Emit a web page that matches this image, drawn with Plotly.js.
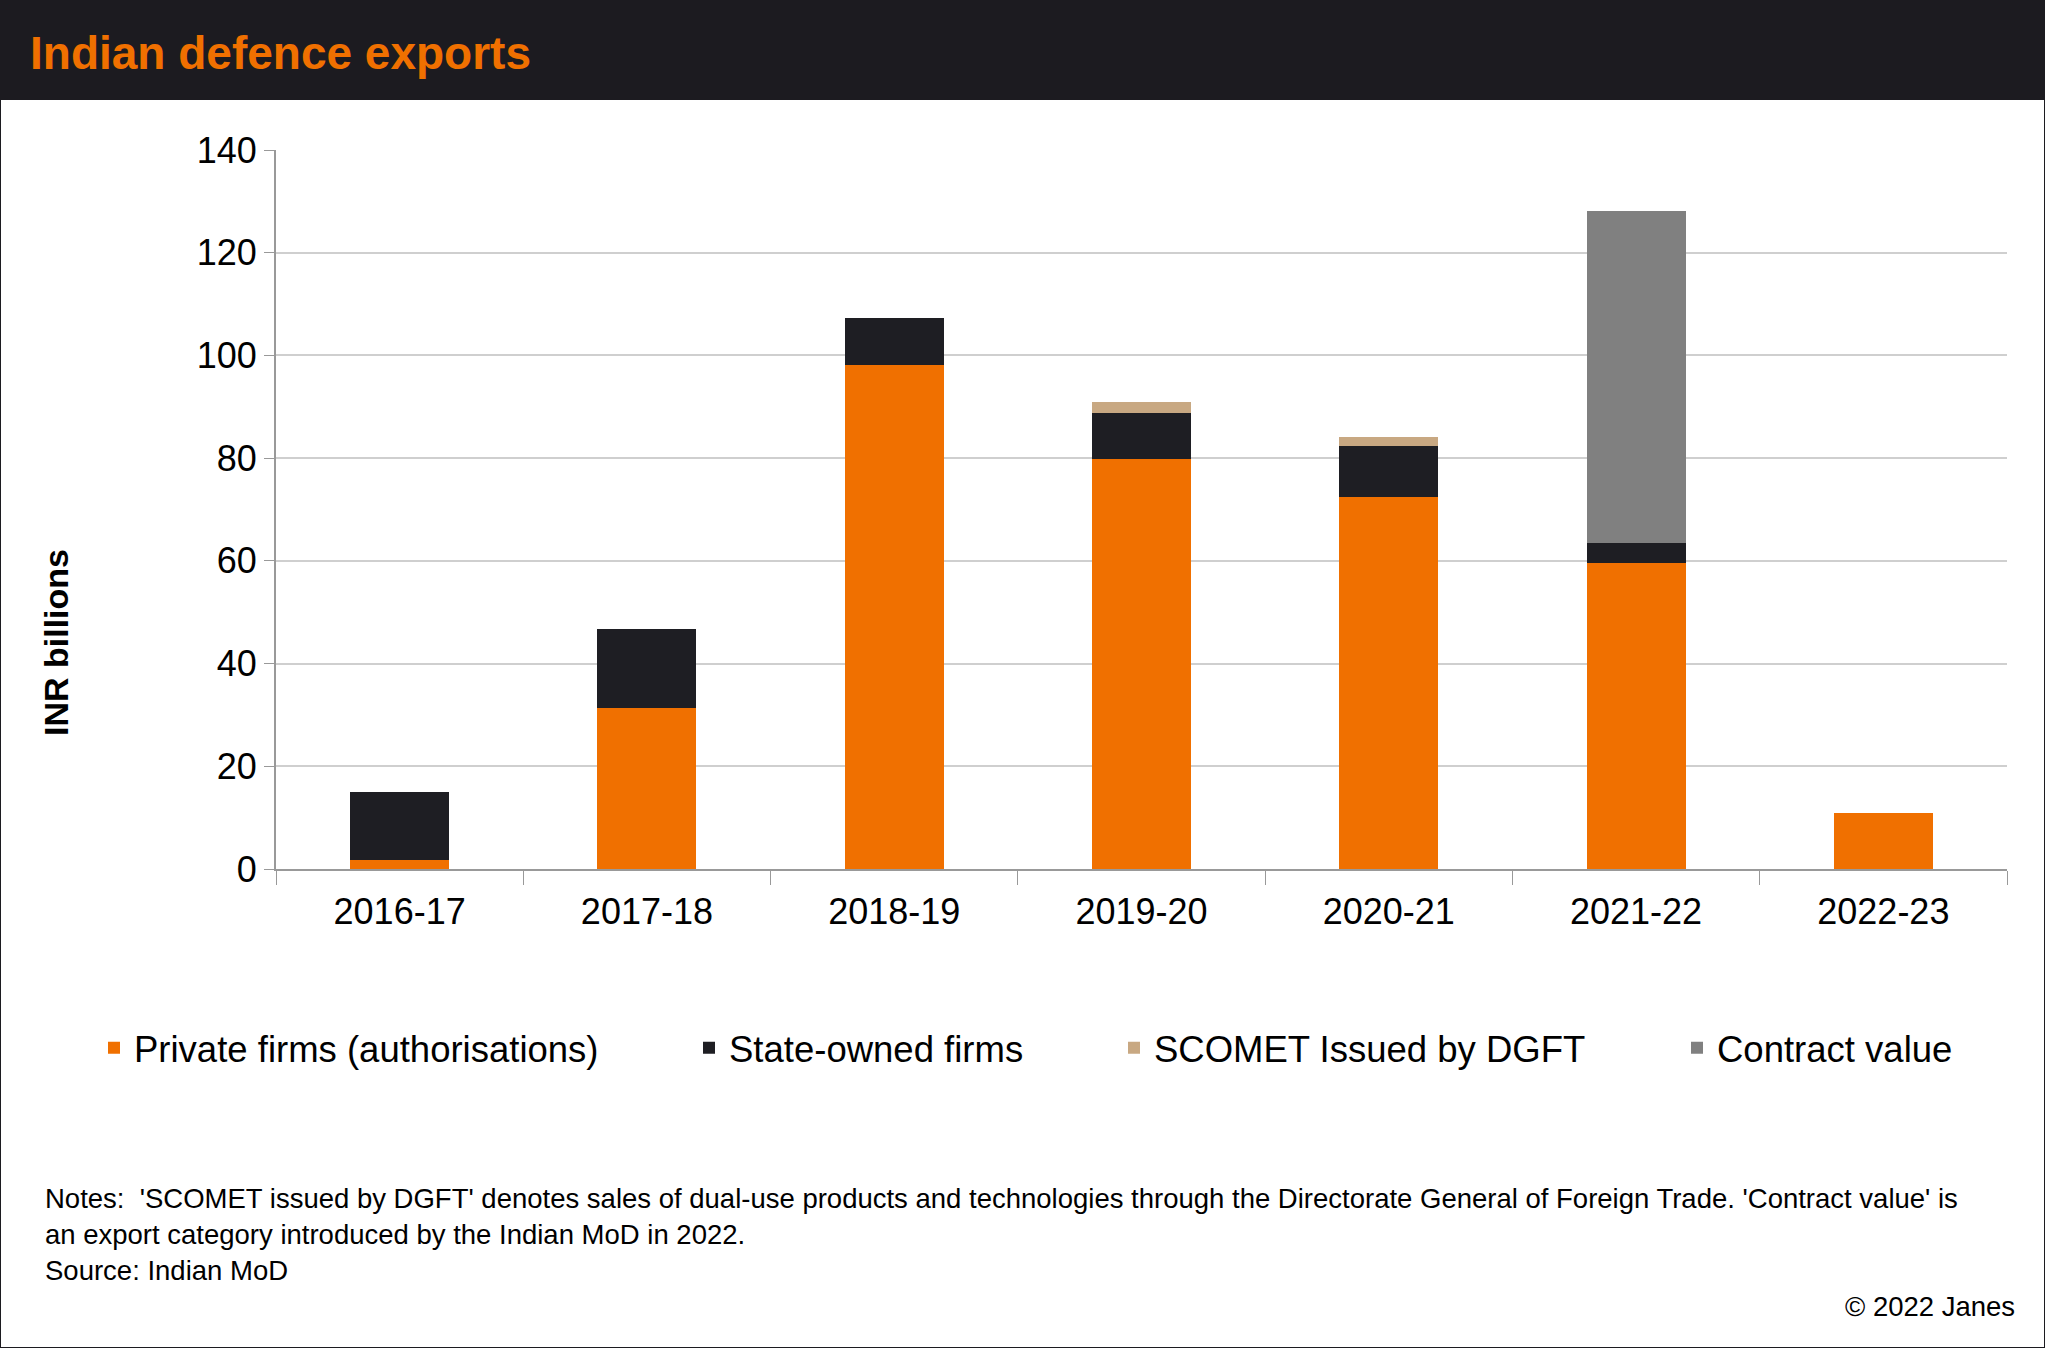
<!DOCTYPE html>
<html><head><meta charset="utf-8">
<script src="https://cdn.plot.ly/plotly-3.0.1.min.js"></script>
<style>
html,body{margin:0;padding:0;background:#fff;}
#wrap{position:relative;width:2043px;height:1346px;border:1px solid #1c1b20;}
#hdr{position:absolute;left:0;top:0;width:100%;height:99px;background:#1c1b20;}
#hdr span{position:absolute;left:29px;top:25px;color:#f07000;font:bold 46px "Liberation Sans",Arial,sans-serif;}
#chart{position:absolute;left:0;top:99px;width:2043px;height:1247px;}
</style></head>
<body>
<div id="wrap"><div id="hdr"><span>Indian defence exports</span></div><div id="chart"></div></div>
<script>
const years = ['2016-17','2017-18','2018-19','2019-20','2020-21','2021-22','2022-23'];
const privateFirms = [1.8, 31.4, 98.1, 79.9, 72.5, 59.6, 10.9];
const stateOwned = [13.2, 15.3, 9.2, 8.9, 9.9, 3.8, 0];
const scomet = [0, 0, 0, 2.2, 1.8, 0, 0];
const contractValue = [0, 0, 0, 0, 0, 64.7, 0];

const font = {family: '"Liberation Sans", Arial, sans-serif', color: '#000'};
const mk = (name, y, color, legend) => ({type: 'bar', name, x: years, y, marker: {color}, legend, hoverinfo: 'x+y+name'});

const traces = [
  mk('Private firms (authorisations)', privateFirms, '#f07000', 'legend'),
  mk('State-owned firms', stateOwned, '#1e1e23', 'legend2'),
  mk('SCOMET Issued by DGFT', scomet, '#c8a882', 'legend3'),
  mk('Contract value', contractValue, '#808080', 'legend4'),
];

// plot area spans x 275..2006 px, bottom at 868 px, height 719 px
const lx = px => (px - 275) / 1731;
const ly = px => (868 - px) / 719;
const leg = px => ({orientation: 'h', x: lx(px), xanchor: 'left', y: ly(1047), yanchor: 'middle',
  font: {size: 36.5}, itemwidth: 30, bgcolor: 'rgba(0,0,0,0)'});

const layout = {
  barmode: 'stack',
  bargap: 0.6,
  width: 2043, height: 1247,
  margin: {l: 275, r: 37, t: 50, b: 478},
  paper_bgcolor: '#fff', plot_bgcolor: '#fff',
  font: Object.assign({size: 35}, font),
  xaxis: {
    tickson: 'boundaries', ticks: 'outside', ticklen: 14, tickcolor: '#999',
    showline: true, linecolor: '#999', linewidth: 2, tickfont: {size: 36},
    ticklabelstandoff: 10,
  },
  yaxis: {
    range: [0, 140], dtick: 20, ticks: 'outside', ticklen: 10, tickcolor: '#999',
    showline: true, linecolor: '#999', linewidth: 2,
    gridcolor: '#cfcfcf', gridwidth: 2, tickfont: {size: 36}, zeroline: false,
  },
  showlegend: true,
  legend: leg(93), legend2: leg(688), legend3: leg(1113), legend4: leg(1676),
  annotations: [
    {xref: 'paper', yref: 'paper', x: lx(55), y: ly(642), xanchor: 'center', yanchor: 'middle', textangle: -90,
     showarrow: false, font: {size: 34}, text: '<b>INR billions</b>'},
    {xref: 'paper', yref: 'paper', x: lx(42), xanchor: 'left', y: ly(1180), yanchor: 'top', align: 'left', showarrow: false,
     font: {size: 27.5}, text: "Notes:  'SCOMET issued by DGFT' denotes sales of dual-use products and technologies through the Directorate General of Foreign Trade. 'Contract value' is<br>an export category introduced by the Indian MoD in 2022.<br>Source: Indian MoD"},
    {xref: 'paper', yref: 'paper', x: lx(2016), xanchor: 'right', y: ly(1288), yanchor: 'top', showarrow: false,
     font: {size: 27.5}, text: '© 2022 Janes'},
  ],
};

Plotly.newPlot('chart', traces, layout, {displayModeBar: false, staticPlot: true});
</script>
</body></html>
